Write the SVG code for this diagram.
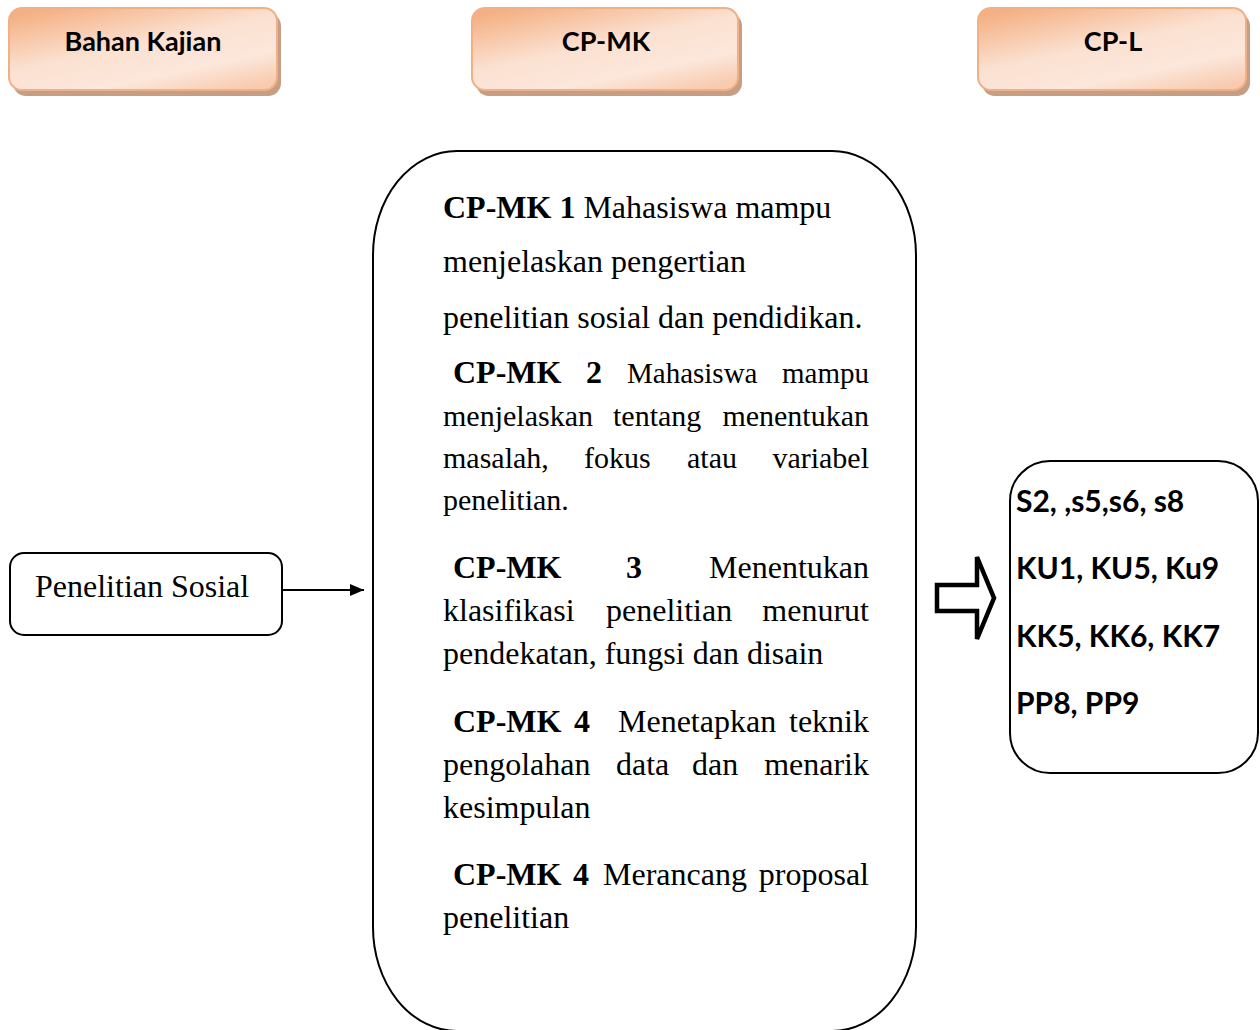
<svg xmlns="http://www.w3.org/2000/svg" width="1260" height="1030" viewBox="0 0 1260 1030">
<defs>
<linearGradient id="peach" x1="0.15" y1="0" x2="0.85" y2="1">
<stop offset="0" stop-color="#F4B083"/>
<stop offset="0.45" stop-color="#FBE1D1"/>
<stop offset="0.75" stop-color="#FCE7DB"/>
<stop offset="1" stop-color="#F8CBAE"/>
</linearGradient>
<marker id="arr" markerWidth="14" markerHeight="12" refX="14" refY="6" orient="auto" markerUnits="userSpaceOnUse">
<path d="M0,0 L14,6 L0,12 Z" fill="#000"/>
</marker>
<style>
.hdr-shadow{fill:#C59E83;}
.hdr{fill:url(#peach);stroke:#F0B088;stroke-width:2;}
.hdr-t{font-family:Lato,"Open Sans",sans-serif;font-weight:bold;font-size:27px;fill:#000;text-anchor:middle;}
.box{fill:#fff;stroke:#000;stroke-width:2;}
.tm{font-family:"Liberation Serif","Times New Roman",serif;font-size:32px;fill:#000;}
.s30{font-size:30px;}
.s29{font-size:29px;}
.b{font-weight:bold;}
.r{text-anchor:end;}
.cpl{font-family:Lato,"Open Sans",sans-serif;font-weight:bold;font-size:30px;fill:#000;}
</style>
</defs>
<rect width="1260" height="1030" fill="#fff"/>

<g id="hdr-bahan">
<rect class="hdr-shadow" x="13" y="13" width="268" height="83" rx="13"/>
<rect class="hdr" x="9" y="8" width="268" height="82" rx="13"/>
<text class="hdr-t" x="143" y="51">Bahan Kajian</text>
</g>
<g id="hdr-cpmk">
<rect class="hdr-shadow" x="476" y="13" width="266" height="83" rx="13"/>
<rect class="hdr" x="472" y="8" width="266" height="82" rx="13"/>
<text class="hdr-t" x="606" y="51">CP-MK</text>
</g>
<g id="hdr-cpl">
<rect class="hdr-shadow" x="982" y="13" width="268" height="83" rx="13"/>
<rect class="hdr" x="978" y="8" width="268" height="82" rx="13"/>
<text class="hdr-t" x="1113" y="51">CP-L</text>
</g>

<g id="node-penelitian">
<rect class="box" x="10" y="553" width="272" height="82" rx="14"/>
<text class="tm" x="35" y="597">Penelitian Sosial</text>
</g>

<g id="node-cpmk">
<rect class="box" x="373" y="151" width="543" height="880" rx="84" ry="104"/>
<text class="tm" x="443" y="218"><tspan class="b">CP-MK 1</tspan> Mahasiswa mampu</text>
<text class="tm" x="443" y="272">menjelaskan pengertian</text>
<text class="tm" x="443" y="328">penelitian sosial dan pendidikan.</text>

<text class="tm b" x="453" y="383">CP-MK</text>
<text class="tm b" x="586" y="383">2</text>
<text class="tm s29" x="627" y="383">Mahasiswa</text>
<text class="tm s29 r" x="869" y="383">mampu</text>
<text class="tm s30" x="443" y="426">menjelaskan</text>
<text class="tm s30" x="613" y="426">tentang</text>
<text class="tm s30 r" x="869" y="426">menentukan</text>
<text class="tm s30" x="443" y="468">masalah,</text>
<text class="tm s30" x="584" y="468">fokus</text>
<text class="tm s30" x="687" y="468">atau</text>
<text class="tm s30 r" x="869" y="468">variabel</text>
<text class="tm s30" x="443" y="510">penelitian.</text>

<text class="tm b" x="453" y="578">CP-MK</text>
<text class="tm b" x="626" y="578">3</text>
<text class="tm r" x="869" y="578">Menentukan</text>
<text class="tm" x="443" y="621">klasifikasi</text>
<text class="tm" x="606" y="621">penelitian</text>
<text class="tm r" x="869" y="621">menurut</text>
<text class="tm" x="443" y="664">pendekatan, fungsi dan disain</text>

<text class="tm b" x="453" y="732">CP-MK</text>
<text class="tm b" x="574" y="732">4</text>
<text class="tm" x="618" y="732">Menetapkan</text>
<text class="tm r" x="869" y="732">teknik</text>
<text class="tm" x="443" y="775">pengolahan</text>
<text class="tm" x="616" y="775">data</text>
<text class="tm" x="692" y="775">dan</text>
<text class="tm r" x="869" y="775">menarik</text>
<text class="tm" x="443" y="818">kesimpulan</text>

<text class="tm b" x="453" y="885">CP-MK</text>
<text class="tm b" x="573" y="885">4</text>
<text class="tm" x="603" y="885">Merancang</text>
<text class="tm r" x="869" y="885">proposal</text>
<text class="tm" x="443" y="928">penelitian</text>
</g>

<g id="node-cpl">
<rect class="box" x="1010" y="461" width="248" height="312" rx="40"/>
<text class="cpl" x="1016" y="512">S2, ,s5,s6, s8</text>
<text class="cpl" x="1016" y="579">KU1, KU5, Ku9</text>
<text class="cpl" x="1016" y="647">KK5, KK6, KK7</text>
<text class="cpl" x="1016" y="714">PP8, PP9</text>
</g>

<g id="connectors">
<line x1="283" y1="590" x2="364" y2="590" stroke="#000" stroke-width="2" marker-end="url(#arr)"/>
<polygon points="937,585 977,585 977,557 994,598 977,639 977,611 937,611" fill="#fff" stroke="#000" stroke-width="4.5" stroke-linejoin="miter"/>
</g>
</svg>
